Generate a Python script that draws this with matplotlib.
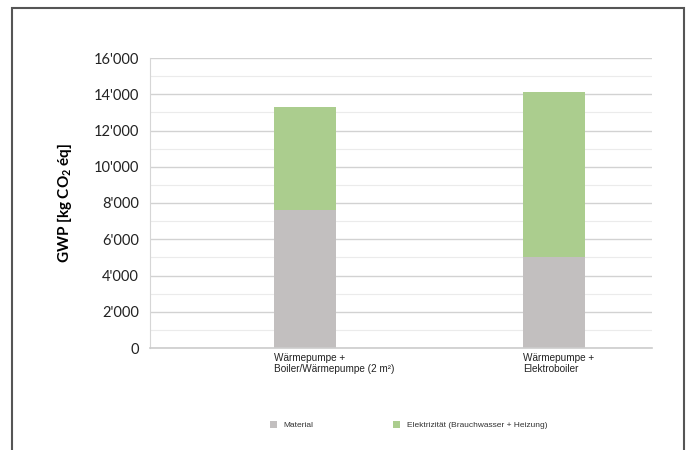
import numpy as np
import matplotlib
matplotlib.use('Agg')
import matplotlib.pyplot as plt
from matplotlib.patches import Patch, Rectangle
from matplotlib.ticker import FuncFormatter, MultipleLocator
import matplotlib.transforms as mtransforms

plt.rcParams['font.family'] = ['Lato', 'DejaVu Sans']
plt.rcParams['mathtext.fontset'] = 'custom'
plt.rcParams['mathtext.bf'] = 'Lato:bold'
plt.rcParams['mathtext.rm'] = 'Lato'
plt.rcParams['mathtext.default'] = 'bf'

# GWP je Variante, gestapelt
varianten = ['Wärmepumpe +\nBoiler/Wärmepumpe (2 m²)', 'Wärmepumpe +\nElektroboiler']
material = [7600, 5000]
elektrizitaet = [5700, 9150]
serien = ['Material', 'Elektrizität (Brauchwasser + Heizung)']
farben = ['#c2bfbf', '#abcd8e']

fig = plt.figure(figsize=(6.91, 4.5), dpi=100)
ax = fig.add_axes([150 / 691, 1 - 348 / 450, 502 / 691, 290 / 450])

x = np.arange(len(varianten))
breite = 0.25
ax.bar(x, material, breite, color=farben[0], linewidth=0)
ax.bar(x, elektrizitaet, breite, bottom=material, color=farben[1], linewidth=0)

ax.set_xlim(-0.622, 1.394)
ax.set_ylim(0, 16000)
ax.yaxis.set_major_locator(MultipleLocator(2000))
ax.yaxis.set_minor_locator(MultipleLocator(1000))
ax.yaxis.set_major_formatter(FuncFormatter(lambda v, p: f"{int(v):,}".replace(',', "'")))
ax.grid(axis='y', which='major', color='#d2d2d2', linewidth=1.0)
ax.grid(axis='y', which='minor', color='#ebebeb', linewidth=0.8)
ax.set_axisbelow(True)
ax.tick_params(axis='y', which='both', length=0, pad=8, labelsize=10.5, labelcolor='#222222')
ax.tick_params(axis='x', length=0, labelbottom=False)
for s in ['top', 'right']:
    ax.spines[s].set_visible(False)
ax.spines['left'].set_color('#d6d6d6')
ax.spines['bottom'].set_color('#cccccc')
ax.spines['bottom'].set_linewidth(1.2)

ax.set_ylabel('GWP [kg CO$_2$ éq]', fontsize=11, fontweight='bold', labelpad=14)

# Beschriftung linksbündig unter den Balken
trans = mtransforms.blended_transform_factory(ax.transData, ax.transAxes)
for xi, name in zip(x, varianten):
    ax.text(xi - breite / 2, -0.016, name, transform=trans, ha='left', va='top',
            fontsize=7.2, family=['Liberation Sans', 'DejaVu Sans'], color='#222222',
            linespacing=1.2)

handles = [Patch(facecolor=c, edgecolor='none') for c in farben]
fig.legend(handles, serien, loc='center left', bbox_to_anchor=(262 / 691, 1 - 425 / 450),
           ncol=2, frameon=False, prop={'family': 'Liberation Sans', 'size': 6},
           labelcolor='#333333', handlelength=0.9, handleheight=0.9, handletextpad=0.8,
           columnspacing=9.5)

# Rahmen um die Grafik
fig.patches.append(Rectangle((12 / 691, -0.1), 672 / 691, 1.1 - 8 / 450, transform=fig.transFigure,
                             fill=False, edgecolor='#555555', linewidth=1.5))

fig.savefig('out.png', dpi=100)
